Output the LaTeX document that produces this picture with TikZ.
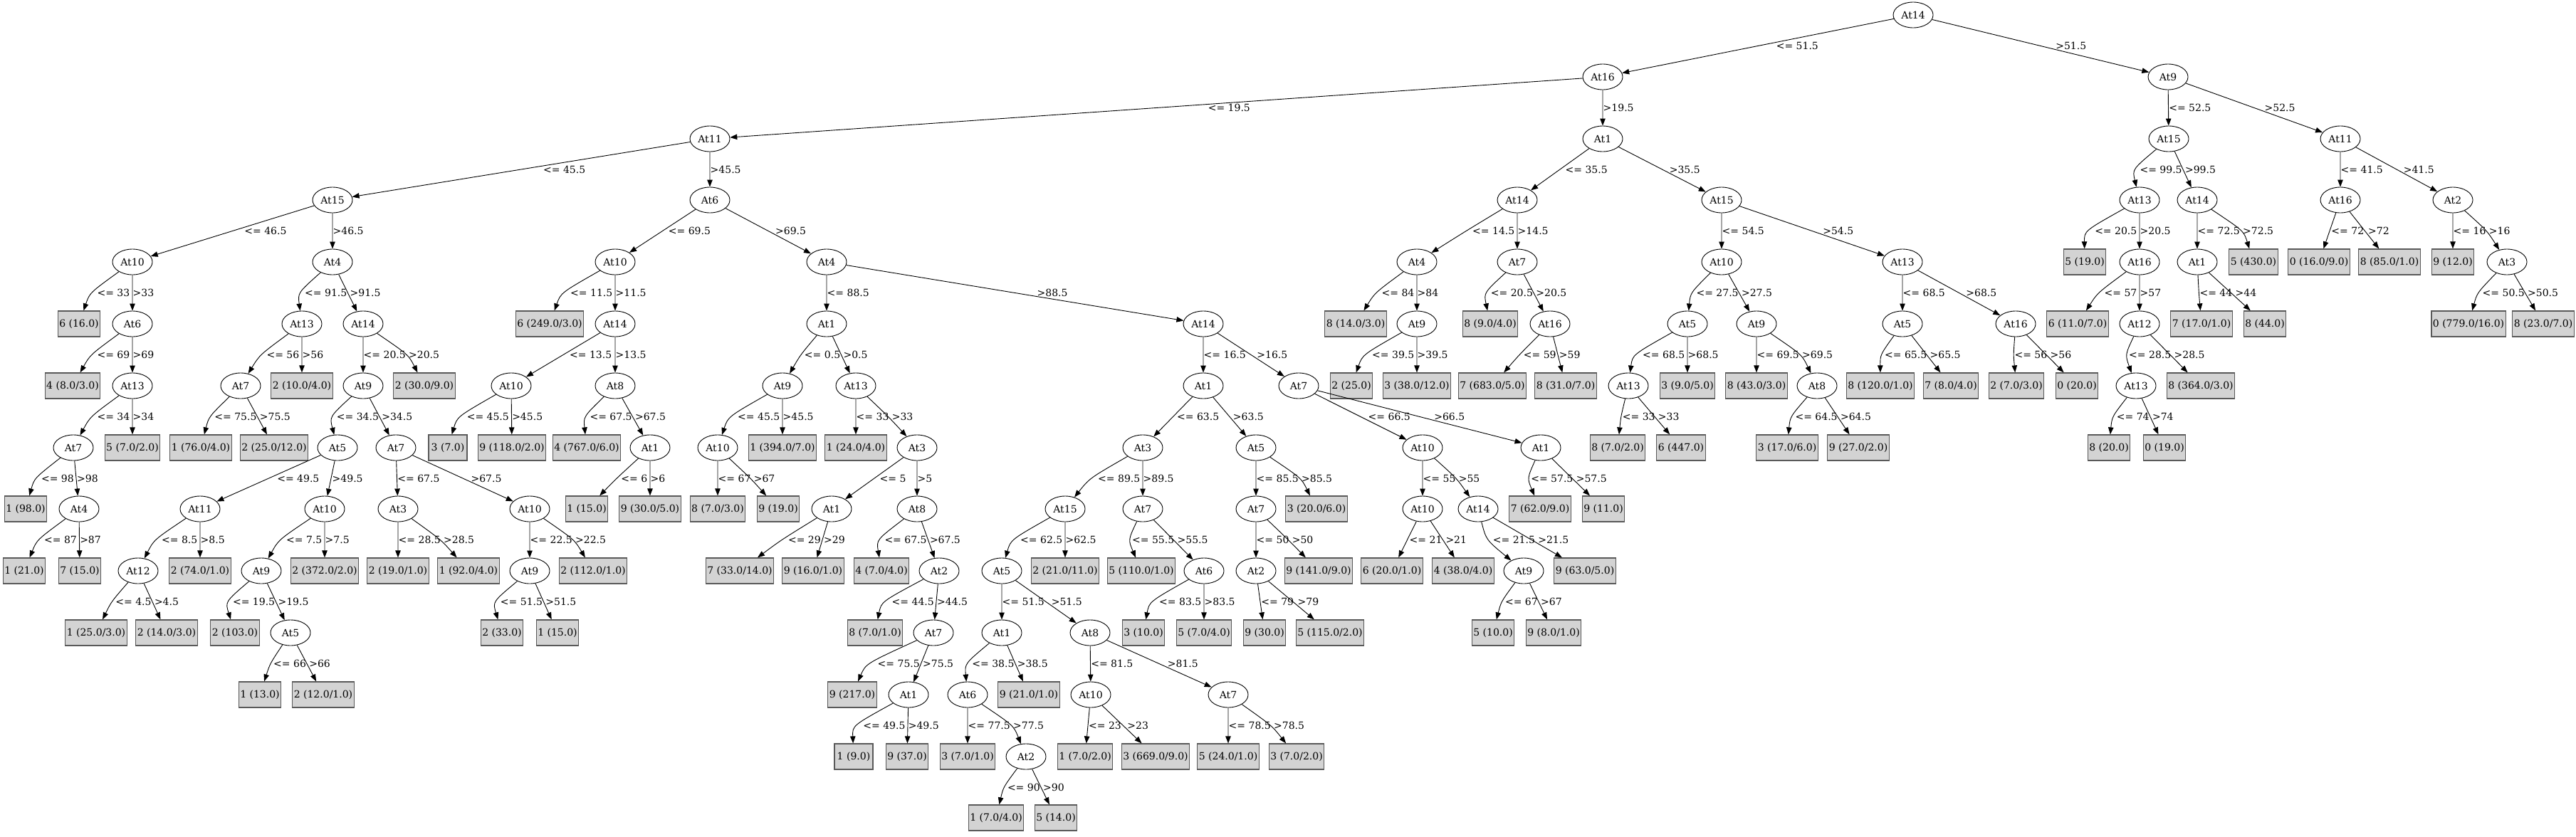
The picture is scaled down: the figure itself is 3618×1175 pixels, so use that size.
\documentclass[tikz,border=0pt]{standalone}
\usepackage{fontspec}
\setmainfont{DejaVu Serif}
\usepackage{tikz}
\usetikzlibrary{shapes.geometric,arrows.meta,calc}
\definecolor{boxgray}{HTML}{D3D3D3}

\tikzset{
  attr/.style={ellipse, draw, line width=0.9pt, minimum width=56pt, minimum height=36pt, inner sep=0pt},
  leaf/.style={rectangle, draw=black!65, line width=1.2pt, fill=boxgray, minimum width=54pt, minimum height=36pt, inner xsep=2pt, inner ysep=0pt},
  link/.style={-{Triangle[length=10pt,width=7.5pt]}, line width=0.9pt},
  cond/.style={anchor=west, inner sep=0.5pt}
}

% parent, left child, right child, left text, right text
\newcommand{\branch}[5]{%
  \node[inner sep=0.5pt] (#1w) at (0,0) {\phantom{#4}};
  \path let \p1=(#1), \p2=(#2), \p3=(#3), \p4=(#1w.west), \p5=(#1w.east),
      \n1={0.5*\x1+0.5*\x2}, \n2={0.5*\x1+0.5*\x3},
      \n5={0.0575*abs(\x1-\x2)}, \n6={0.0575*abs(\x1-\x3)},
      \n3={max(0, \n1+\n5+\x5-\x4+3-\n2-\n6)},
      \n4={abs(\x1-\x2)<1} in
    coordinate (#1k) at ({\n1-(1-\n4)*\n3}, {0.5*\y1+0.5*\y2})
    coordinate (#1m) at ({\n2+\n4*\n3}, {0.5*\y1+0.5*\y3})
    node[cond] (#1s) at ({\n1-(1-\n4)*\n3+\n5}, {0.5*\y1+0.5*\y2}) {#4}
    node[cond] (#1g) at ({\n2+\n4*\n3+\n6}, {0.5*\y1+0.5*\y3}) {#5};
  \draw[link] (#1) .. controls ($1.33333*(#1k)-0.16667*(#1)-0.16667*(#2)$) .. (#2);
  \draw[link] (#1) .. controls ($1.33333*(#1m)-0.16667*(#1)-0.16667*(#3)$) .. (#3);
}

\begin{document}
\begin{tikzpicture}[x=1pt,y=-1pt,font=\fontsize{14}{16}\selectfont]
\useasboundingbox (0,0) rectangle (3618,1175);

% attributes
\node[attr] at (2687,21) (n1) {At14};
\node[attr] at (2251,108) (n2) {At16};
\node[attr] at (3045,108) (n3) {At9};
\node[attr] at (997,195) (n4) {At11};
\node[attr] at (2251,195) (n5) {At1};
\node[attr] at (467,281) (n6) {At15};
\node[attr] at (997,281) (n7) {At6};
\node[attr] at (186,368) (n8) {At10};
\node[attr] at (467,368) (n9) {At4};
\node[attr] at (186,455) (n10) {At6};
\node[attr] at (186,542) (n11) {At13};
\node[attr] at (103,629) (n12) {At7};
\node[attr] at (111,715) (n13) {At4};
\node[attr] at (424,455) (n14) {At13};
\node[attr] at (510,455) (n15) {At14};
\node[attr] at (338,542) (n16) {At7};
\node[attr] at (510,542) (n17) {At9};
\node[attr] at (474,629) (n18) {At5};
\node[attr] at (556,629) (n19) {At7};
\node[attr] at (281,715) (n20) {At11};
\node[attr] at (456,715) (n21) {At10};
\node[attr] at (194,802) (n22) {At12};
\node[attr] at (367,802) (n23) {At9};
\node[attr] at (408,889) (n24) {At5};
\node[attr] at (559,715) (n25) {At3};
\node[attr] at (744,715) (n26) {At10};
\node[attr] at (744,802) (n27) {At9};
\node[attr] at (864,368) (n28) {At10};
\node[attr] at (1161,368) (n29) {At4};
\node[attr] at (864,455) (n30) {At14};
\node[attr] at (718,542) (n31) {At10};
\node[attr] at (864,542) (n32) {At8};
\node[attr] at (913,629) (n33) {At1};
\node[attr] at (1161,455) (n34) {At1};
\node[attr] at (1690,455) (n35) {At14};
\node[attr] at (1099,542) (n36) {At9};
\node[attr] at (1202,542) (n37) {At13};
\node[attr] at (1008,629) (n38) {At10};
\node[attr] at (1288,629) (n39) {At3};
\node[attr] at (1168,715) (n40) {At1};
\node[attr] at (1288,715) (n41) {At8};
\node[attr] at (1319,802) (n42) {At2};
\node[attr] at (1311,889) (n43) {At7};
\node[attr] at (1276,976) (n44) {At1};
\node[attr] at (1690,542) (n45) {At1};
\node[attr] at (1824,542) (n46) {At7};
\node[attr] at (1605,629) (n47) {At3};
\node[attr] at (1764,629) (n48) {At5};
\node[attr] at (1496,715) (n49) {At15};
\node[attr] at (1605,715) (n50) {At7};
\node[attr] at (1407,802) (n51) {At5};
\node[attr] at (1407,889) (n52) {At1};
\node[attr] at (1531,889) (n53) {At8};
\node[attr] at (1359,976) (n54) {At6};
\node[attr] at (1441,1063) (n55) {At2};
\node[attr] at (1532,976) (n56) {At10};
\node[attr] at (1725,976) (n57) {At7};
\node[attr] at (1691,802) (n58) {At6};
\node[attr] at (1764,715) (n59) {At7};
\node[attr] at (1764,802) (n60) {At2};
\node[attr] at (1998,629) (n61) {At10};
\node[attr] at (2164,629) (n62) {At1};
\node[attr] at (1998,715) (n63) {At10};
\node[attr] at (2076,715) (n64) {At14};
\node[attr] at (2140,802) (n65) {At9};
\node[attr] at (2131,281) (n66) {At14};
\node[attr] at (2418,281) (n67) {At15};
\node[attr] at (1990,368) (n68) {At4};
\node[attr] at (2131,368) (n69) {At7};
\node[attr] at (1990,455) (n70) {At9};
\node[attr] at (2177,455) (n71) {At16};
\node[attr] at (2418,368) (n72) {At10};
\node[attr] at (2672,368) (n73) {At13};
\node[attr] at (2370,455) (n74) {At5};
\node[attr] at (2467,455) (n75) {At9};
\node[attr] at (2287,542) (n76) {At13};
\node[attr] at (2552,542) (n77) {At8};
\node[attr] at (2672,455) (n78) {At5};
\node[attr] at (2831,455) (n79) {At16};
\node[attr] at (3046,195) (n80) {At15};
\node[attr] at (3287,195) (n81) {At11};
\node[attr] at (3005,281) (n82) {At13};
\node[attr] at (3086,281) (n83) {At14};
\node[attr] at (3005,368) (n84) {At16};
\node[attr] at (3005,455) (n85) {At12};
\node[attr] at (3000,542) (n86) {At13};
\node[attr] at (3086,368) (n87) {At1};
\node[attr] at (3287,281) (n88) {At16};
\node[attr] at (3445,281) (n89) {At2};
\node[attr] at (3521,368) (n90) {At3};

% leaves
\node[leaf] at (111,455) (l1) {6 (16.0)};
\node[leaf] at (102,542) (l2) {4 (8.0/3.0)};
\node[leaf] at (186,629) (l3) {5 (7.0/2.0)};
\node[leaf] at (36,715) (l4) {1 (98.0)};
\node[leaf] at (34,802) (l5) {1 (21.0)};
\node[leaf] at (112,802) (l6) {7 (15.0)};
\node[leaf] at (424,542) (l7) {2 (10.0/4.0)};
\node[leaf] at (282,629) (l8) {1 (76.0/4.0)};
\node[leaf] at (385,629) (l9) {2 (25.0/12.0)};
\node[leaf] at (596,542) (l10) {2 (30.0/9.0)};
\node[leaf] at (281,802) (l11) {2 (74.0/1.0)};
\node[leaf] at (135,889) (l12) {1 (25.0/3.0)};
\node[leaf] at (234,889) (l13) {2 (14.0/3.0)};
\node[leaf] at (456,802) (l14) {2 (372.0/2.0)};
\node[leaf] at (330,889) (l15) {2 (103.0)};
\node[leaf] at (365,976) (l16) {1 (13.0)};
\node[leaf] at (454,976) (l17) {2 (12.0/1.0)};
\node[leaf] at (559,802) (l18) {2 (19.0/1.0)};
\node[leaf] at (658,802) (l19) {1 (92.0/4.0)};
\node[leaf] at (833,802) (l20) {2 (112.0/1.0)};
\node[leaf] at (705,889) (l21) {2 (33.0)};
\node[leaf] at (783,889) (l22) {1 (15.0)};
\node[leaf] at (772,455) (l23) {6 (249.0/3.0)};
\node[leaf] at (629,629) (l24) {3 (7.0)};
\node[leaf] at (719,629) (l25) {9 (118.0/2.0)};
\node[leaf] at (824,629) (l26) {4 (767.0/6.0)};
\node[leaf] at (824,715) (l27) {1 (15.0)};
\node[leaf] at (913,715) (l28) {9 (30.0/5.0)};
\node[leaf] at (1099,629) (l29) {1 (394.0/7.0)};
\node[leaf] at (1008,715) (l30) {8 (7.0/3.0)};
\node[leaf] at (1093,715) (l31) {9 (19.0)};
\node[leaf] at (1202,629) (l32) {1 (24.0/4.0)};
\node[leaf] at (1039,802) (l33) {7 (33.0/14.0)};
\node[leaf] at (1142,802) (l34) {9 (16.0/1.0)};
\node[leaf] at (1238,802) (l35) {4 (7.0/4.0)};
\node[leaf] at (1229,889) (l36) {8 (7.0/1.0)};
\node[leaf] at (1197,976) (l37) {9 (217.0)};
\node[leaf] at (1199,1063) (l38) {1 (9.0)};
\node[leaf] at (1274,1063) (l39) {9 (37.0)};
\node[leaf] at (1496,802) (l40) {2 (21.0/11.0)};
\node[leaf] at (1445,976) (l41) {9 (21.0/1.0)};
\node[leaf] at (1359,1063) (l42) {3 (7.0/1.0)};
\node[leaf] at (1399,1149) (l43) {1 (7.0/4.0)};
\node[leaf] at (1483,1149) (l44) {5 (14.0)};
\node[leaf] at (1524,1063) (l45) {1 (7.0/2.0)};
\node[leaf] at (1623,1063) (l46) {3 (669.0/9.0)};
\node[leaf] at (1725,1063) (l47) {5 (24.0/1.0)};
\node[leaf] at (1821,1063) (l48) {3 (7.0/2.0)};
\node[leaf] at (1603,802) (l49) {5 (110.0/1.0)};
\node[leaf] at (1606,889) (l50) {3 (10.0)};
\node[leaf] at (1691,889) (l51) {5 (7.0/4.0)};
\node[leaf] at (1849,715) (l52) {3 (20.0/6.0)};
\node[leaf] at (1852,802) (l53) {9 (141.0/9.0)};
\node[leaf] at (1776,889) (l54) {9 (30.0)};
\node[leaf] at (1868,889) (l55) {5 (115.0/2.0)};
\node[leaf] at (1955,802) (l56) {6 (20.0/1.0)};
\node[leaf] at (2055,802) (l57) {4 (38.0/4.0)};
\node[leaf] at (2226,802) (l58) {9 (63.0/5.0)};
\node[leaf] at (2097,889) (l59) {5 (10.0)};
\node[leaf] at (2182,889) (l60) {9 (8.0/1.0)};
\node[leaf] at (2163,715) (l61) {7 (62.0/9.0)};
\node[leaf] at (2252,715) (l62) {9 (11.0)};
\node[leaf] at (1904,455) (l63) {8 (14.0/3.0)};
\node[leaf] at (1898,542) (l64) {2 (25.0)};
\node[leaf] at (1990,542) (l65) {3 (38.0/12.0)};
\node[leaf] at (2093,455) (l66) {8 (9.0/4.0)};
\node[leaf] at (2096,542) (l67) {7 (683.0/5.0)};
\node[leaf] at (2199,542) (l68) {8 (31.0/7.0)};
\node[leaf] at (2370,542) (l69) {3 (9.0/5.0)};
\node[leaf] at (2272,629) (l70) {8 (7.0/2.0)};
\node[leaf] at (2361,629) (l71) {6 (447.0)};
\node[leaf] at (2467,542) (l72) {8 (43.0/3.0)};
\node[leaf] at (2510,629) (l73) {3 (17.0/6.0)};
\node[leaf] at (2610,629) (l74) {9 (27.0/2.0)};
\node[leaf] at (2641,542) (l75) {8 (120.0/1.0)};
\node[leaf] at (2740,542) (l76) {7 (8.0/4.0)};
\node[leaf] at (2832,542) (l77) {2 (7.0/3.0)};
\node[leaf] at (2917,542) (l78) {0 (20.0)};
\node[leaf] at (2928,368) (l79) {5 (19.0)};
\node[leaf] at (2918,455) (l80) {6 (11.0/7.0)};
\node[leaf] at (3091,542) (l81) {8 (364.0/3.0)};
\node[leaf] at (2962,629) (l82) {8 (20.0)};
\node[leaf] at (3040,629) (l83) {0 (19.0)};
\node[leaf] at (3165,368) (l84) {5 (430.0)};
\node[leaf] at (3092,455) (l85) {7 (17.0/1.0)};
\node[leaf] at (3181,455) (l86) {8 (44.0)};
\node[leaf] at (3257,368) (l87) {0 (16.0/9.0)};
\node[leaf] at (3356,368) (l88) {8 (85.0/1.0)};
\node[leaf] at (3445,368) (l89) {9 (12.0)};
\node[leaf] at (3467,455) (l90) {0 (779.0/16.0)};
\node[leaf] at (3572,455) (l91) {8 (23.0/7.0)};

% splits
\branch{n1}{n2}{n3}{<= 51.5}{>51.5}
\branch{n2}{n4}{n5}{<= 19.5}{>19.5}
\branch{n4}{n6}{n7}{<= 45.5}{>45.5}
\branch{n6}{n8}{n9}{<= 46.5}{>46.5}
\branch{n8}{l1}{n10}{<= 33}{>33}
\branch{n10}{l2}{n11}{<= 69}{>69}
\branch{n11}{n12}{l3}{<= 34}{>34}
\branch{n12}{l4}{n13}{<= 98}{>98}
\branch{n13}{l5}{l6}{<= 87}{>87}
\branch{n9}{n14}{n15}{<= 91.5}{>91.5}
\branch{n14}{n16}{l7}{<= 56}{>56}
\branch{n16}{l8}{l9}{<= 75.5}{>75.5}
\branch{n15}{n17}{l10}{<= 20.5}{>20.5}
\branch{n17}{n18}{n19}{<= 34.5}{>34.5}
\branch{n18}{n20}{n21}{<= 49.5}{>49.5}
\branch{n20}{n22}{l11}{<= 8.5}{>8.5}
\branch{n22}{l12}{l13}{<= 4.5}{>4.5}
\branch{n21}{n23}{l14}{<= 7.5}{>7.5}
\branch{n23}{l15}{n24}{<= 19.5}{>19.5}
\branch{n24}{l16}{l17}{<= 66}{>66}
\branch{n19}{n25}{n26}{<= 67.5}{>67.5}
\branch{n25}{l18}{l19}{<= 28.5}{>28.5}
\branch{n26}{n27}{l20}{<= 22.5}{>22.5}
\branch{n27}{l21}{l22}{<= 51.5}{>51.5}
\branch{n7}{n28}{n29}{<= 69.5}{>69.5}
\branch{n28}{l23}{n30}{<= 11.5}{>11.5}
\branch{n30}{n31}{n32}{<= 13.5}{>13.5}
\branch{n31}{l24}{l25}{<= 45.5}{>45.5}
\branch{n32}{l26}{n33}{<= 67.5}{>67.5}
\branch{n33}{l27}{l28}{<= 6}{>6}
\branch{n29}{n34}{n35}{<= 88.5}{>88.5}
\branch{n34}{n36}{n37}{<= 0.5}{>0.5}
\branch{n36}{n38}{l29}{<= 45.5}{>45.5}
\branch{n38}{l30}{l31}{<= 67}{>67}
\branch{n37}{l32}{n39}{<= 33}{>33}
\branch{n39}{n40}{n41}{<= 5}{>5}
\branch{n40}{l33}{l34}{<= 29}{>29}
\branch{n41}{l35}{n42}{<= 67.5}{>67.5}
\branch{n42}{l36}{n43}{<= 44.5}{>44.5}
\branch{n43}{l37}{n44}{<= 75.5}{>75.5}
\branch{n44}{l38}{l39}{<= 49.5}{>49.5}
\branch{n35}{n45}{n46}{<= 16.5}{>16.5}
\branch{n45}{n47}{n48}{<= 63.5}{>63.5}
\branch{n47}{n49}{n50}{<= 89.5}{>89.5}
\branch{n49}{n51}{l40}{<= 62.5}{>62.5}
\branch{n51}{n52}{n53}{<= 51.5}{>51.5}
\branch{n52}{n54}{l41}{<= 38.5}{>38.5}
\branch{n54}{l42}{n55}{<= 77.5}{>77.5}
\branch{n55}{l43}{l44}{<= 90}{>90}
\branch{n53}{n56}{n57}{<= 81.5}{>81.5}
\branch{n56}{l45}{l46}{<= 23}{>23}
\branch{n57}{l47}{l48}{<= 78.5}{>78.5}
\branch{n50}{l49}{n58}{<= 55.5}{>55.5}
\branch{n58}{l50}{l51}{<= 83.5}{>83.5}
\branch{n48}{n59}{l52}{<= 85.5}{>85.5}
\branch{n59}{n60}{l53}{<= 50}{>50}
\branch{n60}{l54}{l55}{<= 79}{>79}
\branch{n46}{n61}{n62}{<= 66.5}{>66.5}
\branch{n61}{n63}{n64}{<= 55}{>55}
\branch{n63}{l56}{l57}{<= 21}{>21}
\branch{n64}{n65}{l58}{<= 21.5}{>21.5}
\branch{n65}{l59}{l60}{<= 67}{>67}
\branch{n62}{l61}{l62}{<= 57.5}{>57.5}
\branch{n5}{n66}{n67}{<= 35.5}{>35.5}
\branch{n66}{n68}{n69}{<= 14.5}{>14.5}
\branch{n68}{l63}{n70}{<= 84}{>84}
\branch{n70}{l64}{l65}{<= 39.5}{>39.5}
\branch{n69}{l66}{n71}{<= 20.5}{>20.5}
\branch{n71}{l67}{l68}{<= 59}{>59}
\branch{n67}{n72}{n73}{<= 54.5}{>54.5}
\branch{n72}{n74}{n75}{<= 27.5}{>27.5}
\branch{n74}{n76}{l69}{<= 68.5}{>68.5}
\branch{n76}{l70}{l71}{<= 33}{>33}
\branch{n75}{l72}{n77}{<= 69.5}{>69.5}
\branch{n77}{l73}{l74}{<= 64.5}{>64.5}
\branch{n73}{n78}{n79}{<= 68.5}{>68.5}
\branch{n78}{l75}{l76}{<= 65.5}{>65.5}
\branch{n79}{l77}{l78}{<= 56}{>56}
\branch{n3}{n80}{n81}{<= 52.5}{>52.5}
\branch{n80}{n82}{n83}{<= 99.5}{>99.5}
\branch{n82}{l79}{n84}{<= 20.5}{>20.5}
\branch{n84}{l80}{n85}{<= 57}{>57}
\branch{n85}{n86}{l81}{<= 28.5}{>28.5}
\branch{n86}{l82}{l83}{<= 74}{>74}
\branch{n83}{n87}{l84}{<= 72.5}{>72.5}
\branch{n87}{l85}{l86}{<= 44}{>44}
\branch{n81}{n88}{n89}{<= 41.5}{>41.5}
\branch{n88}{l87}{l88}{<= 72}{>72}
\branch{n89}{l89}{n90}{<= 16}{>16}
\branch{n90}{l90}{l91}{<= 50.5}{>50.5}
\end{tikzpicture}
\end{document}
